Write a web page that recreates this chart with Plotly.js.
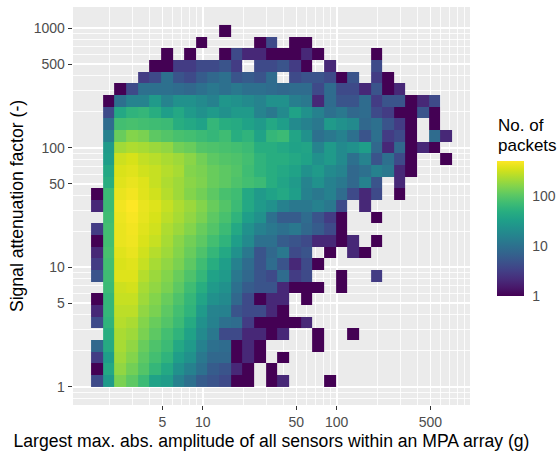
<!DOCTYPE html>
<html><head><meta charset="utf-8">
<script src="https://cdn.plot.ly/plotly-3.0.1.min.js"></script>
<style>html,body{margin:0;padding:0;background:#fff;}#chart{width:558px;height:453px;}</style>
</head><body><div id="chart"></div>
<script>
// Bin centres (log-spaced bins, 31 per axis)
const amplitudeBinCenters = [1.623,1.982,2.421,2.958,3.613,4.413,5.392,6.587,8.047,9.83,12.01,14.67,17.92,21.89,26.74,32.67,39.92,48.75,59.56,72.75,88.88,108.6,132.6,162.0,197.9,241.8,295.4,360.8,440.8,538.5,657.9];
const attenuationBinCenters = [1.119,1.401,1.754,2.197,2.750,3.444,4.312,5.400,6.761,8.467,10.60,13.27,16.62,20.81,26.06,32.63,40.86,51.16,64.06,80.22,100.4,125.8,157.4,197.2,246.9,309.1,387.1,484.7,606.9,759.9,951.3];
// Packet counts per bin; rows listed from the highest attenuation bin down to the lowest
const packetCountsTopDown = [
[0,0,0,0,0,0,0,0,0,0,0,1,0,0,0,0,0,0,0,0,0,0,0,0,0,0,0,0,0,0,0],
[0,0,0,0,0,0,0,0,0,1,0,0,0,0,1,4,0,1,1,0,0,0,0,0,0,0,0,0,0,0,0],
[0,0,0,0,0,0,1,0,1,0,0,1,4,2,2,1,1,1,2,1,0,0,0,0,1,0,0,0,0,0,0],
[0,0,0,0,0,1,1,3,3,4,4,5,3,0,4,4,5,3,1,0,2,0,0,0,4,0,0,0,0,0,0],
[0,0,0,0,3,4,10,5,4,6,8,10,5,6,5,9,0,4,5,5,4,1,5,0,3,1,0,0,0,0,0],
[0,0,1,4,10,10,10,9,8,10,12,10,12,10,10,9,8,9,9,4,9,4,4,2,5,1,2,0,0,0,0],
[0,1,10,16,16,29,16,23,23,19,15,26,23,19,16,23,23,14,12,2,9,5,5,9,3,5,5,1,2,4,0],
[0,4,42,57,62,49,32,42,29,23,29,23,29,29,16,12,19,36,23,15,10,12,8,9,4,3,1,1,5,1,0],
[0,9,78,83,78,74,70,49,42,36,62,49,45,36,29,42,32,19,15,12,29,23,19,8,10,5,3,1,0,1,0],
[0,15,121,160,146,107,95,83,78,70,62,74,49,57,36,62,70,38,23,10,12,15,10,5,10,3,4,1,0,9,2],
[0,29,212,240,225,200,182,134,121,95,89,83,78,70,49,49,42,36,38,16,29,19,23,32,8,2,8,1,2,1,0],
[0,32,318,350,290,264,232,206,171,134,107,95,89,78,57,49,49,42,36,23,29,19,10,16,5,10,4,1,0,0,1],
[0,42,360,383,328,300,256,225,160,146,121,107,95,74,57,49,42,36,23,29,19,16,8,10,15,12,2,1,0,0,0],
[0,49,383,417,372,300,240,206,171,151,121,107,89,78,70,49,38,29,16,23,15,12,8,15,5,0,2,0,0,0,0],
[1,70,417,455,383,328,256,206,160,134,107,83,74,42,29,36,42,32,15,12,15,9,4,2,4,0,1,0,0,0,0],
[2,70,455,508,417,372,300,240,200,160,121,95,70,42,29,23,15,12,12,15,12,4,0,2,0,0,0,0,0,0,0],
[0,74,430,478,405,350,273,225,182,146,107,83,57,32,23,10,6,6,9,5,3,1,0,0,1,0,0,0,0,0,0],
[3,78,417,455,383,328,240,200,160,121,95,70,42,23,15,12,10,12,8,6,4,1,0,0,0,0,0,0,0,0,0],
[1,78,417,443,360,300,225,171,134,107,78,57,32,19,10,10,6,5,4,2,2,1,2,0,1,0,0,0,0,0,0],
[2,83,383,417,328,256,206,160,121,89,62,42,23,12,5,8,12,4,5,0,1,0,2,1,0,0,0,0,0,0,0],
[3,78,360,383,300,225,182,146,107,74,49,32,15,9,5,9,5,2,4,1,0,0,0,0,0,0,0,0,0,0,0],
[5,74,372,372,256,200,160,121,89,62,36,29,12,8,5,4,9,3,4,0,0,1,0,0,3,0,0,0,0,0,0],
[0,70,318,337,225,182,146,107,74,49,29,23,10,6,5,5,2,1,1,1,0,1,0,0,0,0,0,0,0,0,0],
[1,62,300,300,206,160,121,89,62,38,23,19,8,4,1,2,2,0,1,0,0,0,0,0,0,0,0,0,0,0,0],
[2,62,273,273,182,146,107,78,57,29,16,15,5,4,4,2,1,0,0,0,0,0,0,0,0,0,0,0,0,0,0],
[4,57,256,232,160,121,95,70,45,23,15,10,9,3,1,1,1,1,2,0,0,0,0,0,0,0,0,0,0,0,0],
[0,49,232,206,146,107,78,57,36,19,12,4,4,2,2,1,2,0,0,1,0,0,1,0,0,0,0,0,0,0,0],
[8,45,225,182,121,89,70,42,29,15,10,9,1,2,1,0,0,0,0,1,0,0,0,0,0,0,0,0,0,0,0],
[3,32,206,160,107,78,57,32,23,12,8,8,1,2,1,0,1,0,0,0,0,0,0,0,0,0,0,0,0,0,0],
[1,42,182,134,95,62,42,23,15,10,6,5,2,1,0,1,0,0,0,0,0,0,0,0,0,0,0,0,0,0,0],
[4,29,146,107,70,36,30,15,10,6,5,4,1,1,0,1,2,0,0,0,1,0,0,0,0,0,0,0,0,0,0]
];
const xTickValues = [5,10,50,100,500];
const yTickValues = [1,5,10,50,100,500,1000];
const xMinorGrid = [2,3,4,6,7,8,9,20,30,40,60,70,80,90,200,300,400,600,700,800,900];
const yMinorGrid = [0.7,0.8,0.9,2,3,4,6,7,8,9,20,30,40,60,70,80,90,200,300,400,600,700,800,900];
const colorTickCounts = [1,10,100];
const legendTitleLines = ['No. of', 'packets'];

const countsBottomUp = packetCountsTopDown.slice().reverse();
const zLog = countsBottomUp.map(r => r.map(v => v > 0 ? Math.log10(v) : null));
let maxCount = 0;
countsBottomUp.forEach(r => r.forEach(v => { if (v > maxCount) maxCount = v; }));

const FONT = '"Liberation Sans", Arial, sans-serif';
const plotL = 73, plotR = 470, plotT = 7, plotB = 405;
const W = plotR - plotL, H = plotB - plotT;

const trace = {
  type: 'heatmap',
  x: amplitudeBinCenters,
  y: attenuationBinCenters,
  z: zLog,
  zmin: 0,
  zmax: Math.log10(maxCount),
  colorscale: 'Viridis',
  zsmooth: false,
  hoverinfo: 'skip',
  colorbar: {
    thickness: 27, thicknessmode: 'pixels',
    len: 135, lenmode: 'pixels',
    x: (497 - plotL) / W, xanchor: 'left', xref: 'paper',
    y: 1 - (228.4 - plotT) / H, yanchor: 'middle',
    xpad: 0, ypad: 0, outlinewidth: 0,
    tickmode: 'array',
    tickvals: colorTickCounts.map(v => Math.log10(v)),
    ticktext: colorTickCounts.map(String),
    ticks: 'outside', ticklen: 6, tickwidth: 1, tickcolor: 'rgba(0,0,0,0)',
    tickfont: {family: FONT, size: 14, color: '#4D4D4D'},
    title: {text: ''}
  }
};

const axisCommon = {
  type: 'log',
  showline: false, zeroline: false,
  showgrid: true, gridcolor: '#FFFFFF', gridwidth: 1.7,
  ticks: 'outside', ticklen: 4.4, tickwidth: 1.1, tickcolor: '#333333',
  tickfont: {family: FONT, size: 14, color: '#4D4D4D'},
  tickmode: 'array',
  automargin: false
};

const layout = {
  width: 558, height: 453,
  margin: {l: plotL, r: 558 - plotR, t: plotT, b: 453 - plotB, pad: 0, autoexpand: false},
  paper_bgcolor: '#FFFFFF', plot_bgcolor: '#EBEBEB',
  font: {family: FONT},
  xaxis: Object.assign({}, axisCommon, {
    range: [0.0321, 2.9948],
    tickvals: xTickValues, ticktext: xTickValues.map(String),
    minor: {tickmode: 'array', tickvals: xMinorGrid, showgrid: true, gridcolor: '#FFFFFF', gridwidth: 0.85, ticks: ''},
    title: {text: 'Largest max. abs. amplitude of all sensors within an MPA array (g)', font: {family: FONT, size: 17.6, color: '#000000'}, standoff: 5}
  }),
  yaxis: Object.assign({}, axisCommon, {
    range: [-0.1531, 3.1774],
    tickvals: yTickValues, ticktext: yTickValues.map(String),
    minor: {tickmode: 'array', tickvals: yMinorGrid, showgrid: true, gridcolor: '#FFFFFF', gridwidth: 0.85, ticks: ''},
    title: {text: 'Signal attenuation factor (-)', font: {family: FONT, size: 17.6, color: '#000000'}, standoff: 5}
  }),
  annotations: [
    {text: legendTitleLines.join('<br>'), xref: 'paper', yref: 'paper', x: (497 - plotL) / W, y: 1 - (115 - plotT) / H,
     xanchor: 'left', yanchor: 'top', align: 'left', showarrow: false, borderpad: 0,
     font: {family: FONT, size: 17, color: '#000000'}}
  ]
};

Plotly.newPlot('chart', [trace], layout, {displayModeBar: false, staticPlot: true}).then(function () {
  // tighten the legend title line spacing toward the reference (one text element, two lines)
  document.querySelectorAll('#chart .annotation-text tspan.line').forEach(function (t, i) {
    if (i > 0) t.setAttribute('dy', '1.16em');
  });
});
</script></body></html>
